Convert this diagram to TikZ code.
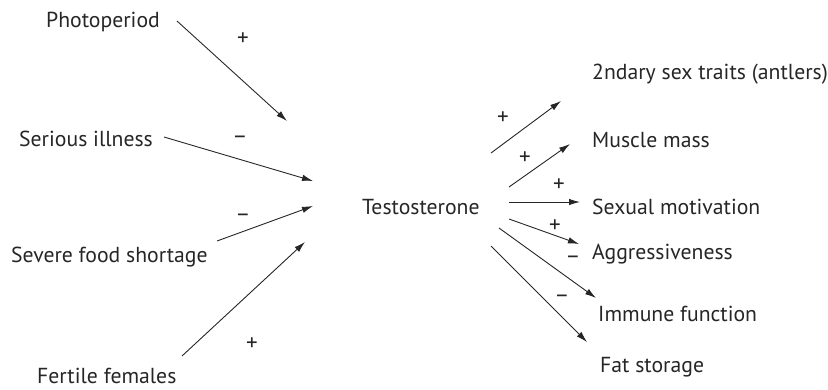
\documentclass[tikz,border=0pt]{standalone}
\usepackage{fontspec}
\setmainfont{PT Sans}
\usetikzlibrary{arrows.meta}
\begin{document}
\begin{tikzpicture}[x=1pt,y=-1pt,
  lbl/.style={anchor=base west,inner sep=0pt,font=\fontsize{21.7}{24}\selectfont,text=black!85},
  sgn/.style={inner sep=0pt,font=\fontsize{23}{26}\selectfont,text=black!85},
  arr/.style={-{Latex[length=11pt,width=6.5pt]},line width=0.9pt,black!85}]
\useasboundingbox (0,0) rectangle (828,389);
% text nodes
\node[lbl] (photo) at (46,27) {Photoperiod};
\node[lbl] (ill) at (19,146) {Serious illness};
\node[lbl] (food) at (11,262) {Severe food shortage};
\node[lbl] (fert) at (37,383) {Fertile females};
\node[lbl] (test) at (362,214) {Testosterone};
\node[lbl] (sec) at (592,79) {2ndary sex traits (antlers)};
\node[lbl] (mus) at (592,147) {Muscle mass};
\node[lbl] (sexm) at (592,214) {Sexual motivation};
\node[lbl] (agg) at (592,259) {Aggressiveness};
\node[lbl] (imm) at (598,321) {Immune function};
\node[lbl] (fat) at (600,372) {Fat storage};
% connector end points
\coordinate (a1s) at (177,21);  \coordinate (a1e) at (287,121);
\coordinate (a2s) at (164,137); \coordinate (a2e) at (313,181);
\coordinate (a3s) at (217,241); \coordinate (a3e) at (313,206);
\coordinate (a4s) at (182,356); \coordinate (a4e) at (305,242);
\coordinate (b1s) at (491,153); \coordinate (b1e) at (561,101);
\coordinate (b2s) at (509,187); \coordinate (b2e) at (570,144);
\coordinate (b3s) at (509,202); \coordinate (b3e) at (580,202);
\coordinate (b4s) at (509,219); \coordinate (b4e) at (579,244);
\coordinate (b5s) at (499,228); \coordinate (b5e) at (596,298);
\coordinate (b6s) at (491,246); \coordinate (b6e) at (587,342);
\draw[arr] (a1s) -- (a1e);
\draw[arr] (a2s) -- (a2e);
\draw[arr] (a3s) -- (a3e);
\draw[arr] (a4s) -- (a4e);
\draw[arr] (b1s) -- (b1e);
\draw[arr] (b2s) -- (b2e);
\draw[arr] (b3s) -- (b3e);
\draw[arr] (b4s) -- (b4e);
\draw[arr] (b5s) -- (b5e);
\draw[arr] (b6s) -- (b6e);
% signs
\node[sgn] (s1) at (243,39) {+};
\node[sgn] (s2) at (240,140) {–};
\node[sgn] (s3) at (243,218) {–};
\node[sgn] (s4) at (252,344) {+};
\node[sgn] (t1) at (503,118) {+};
\node[sgn] (t2) at (525,158) {+};
\node[sgn] (t3) at (559,185) {+};
\node[sgn] (t4) at (555,226) {+};
\node[sgn] (t5) at (573,260) {–};
\node[sgn] (t6) at (562,299) {–};
\end{tikzpicture}
\end{document}
